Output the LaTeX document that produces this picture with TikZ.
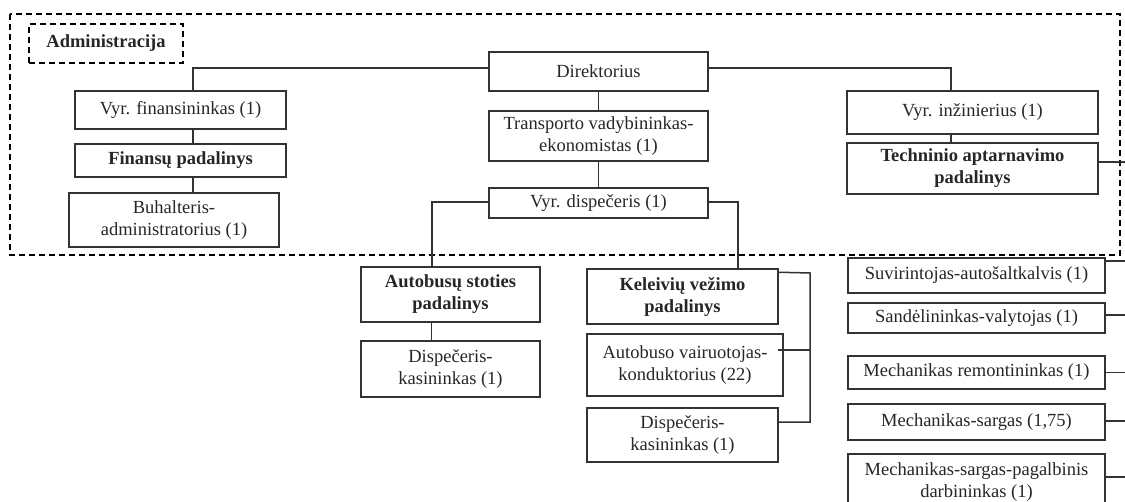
\documentclass[tikz,border=0pt]{standalone}
\usepackage{fontspec}
\setmainfont{Liberation Serif}
\begin{document}
\begin{tikzpicture}[x=1pt, y=-1pt, line width=1.5pt, draw=black!80,
  box/.style={draw=black!80, align=center, inner sep=0pt, text=black!85,
    font=\fontsize{18.5}{22}\selectfont},
  bbox/.style={box, font=\fontsize{18.5}{22}\selectfont\bfseries},
  grupe/.style={draw=black, dashed, dash pattern=on 6pt off 4pt, line width=1.4pt}]
  \useasboundingbox (0,0) rectangle (1125,502);
  % administracija
  \draw [grupe] (10,14) rectangle (1120,255);
  \node [bbox, grupe, minimum width=154pt, minimum height=39pt] (adm) at (106,43.5) {Administracija};
  % vadovybe
  \node [box, minimum width=219pt, minimum height=39pt] (dir) at (598.5,71.5) {Direktorius};
  \node [box, minimum width=219pt, minimum height=50pt] (trans) at (598.5,136) {Transporto vadybininkas-\\ekonomistas (1)};
  \node [box, minimum width=219pt, minimum height=30pt] (vdisp) at (598.5,203) {Vyr. dispečeris (1)};
  % finansai
  \node [box, minimum width=211pt, minimum height=38pt] (vfin) at (180.5,110) {Vyr. finansininkas (1)};
  \node [bbox, minimum width=211pt, minimum height=33pt] (finp) at (180.5,160.5) {Finansų padalinys};
  \node [box, minimum width=210pt, minimum height=54pt] (buh) at (174,220) {Buhalteris-\\administratorius (1)};
  % technika
  \node [box, minimum width=251pt, minimum height=43pt] (vinz) at (972.5,112.5) {Vyr. inžinierius (1)};
  \node [bbox, minimum width=251pt, minimum height=51pt] (tech) at (972.5,168.5) {Techninio aptarnavimo\\padalinys};
  % autobusu stotis
  \node [bbox, minimum width=179pt, minimum height=55pt] (aut) at (450.5,294.5) {Autobusų stoties\\padalinys};
  \node [box, minimum width=179pt, minimum height=56pt] (disp1) at (450.5,369) {Dispečeris-\\kasininkas (1)};
  % keleiviu vezimas
  \node [bbox, minimum width=191pt, minimum height=55pt] (kel) at (682.5,296.5) {Keleivių vežimo\\padalinys};
  \node [box, minimum width=196pt, minimum height=62pt] (vair) at (685,365) {Autobuso vairuotojas-\\konduktorius (22)};
  \node [box, minimum width=191pt, minimum height=54pt] (disp2) at (682.5,435) {Dispečeris-\\kasininkas (1)};
  % techninio padalinio darbuotojai
  \node [box, minimum width=257pt, minimum height=35pt] (suv) at (976.5,275.5) {Suvirintojas-autošaltkalvis (1)};
  \node [box, minimum width=257pt, minimum height=30pt] (sand) at (976.5,318) {Sandėlininkas-valytojas (1)};
  \node [box, minimum width=257pt, minimum height=33pt] (mrem) at (976.5,372.5) {Mechanikas remontininkas (1)};
  \node [box, minimum width=257pt, minimum height=36pt] (msarg) at (976.5,422) {Mechanikas-sargas (1,75)};
  \node [box, minimum width=257pt, minimum height=56pt] (mpag) at (976.5,482) {Mechanikas-sargas-pagalbinis\\darbininkas (1)};
  % linijos
  \coordinate (kbr) at (810,273);
  \coordinate (rtr) at (1128,162);
  \draw ([yshift=3.5pt]dir.west) -| ([xshift=12.5pt]vfin.north);
  \draw ([xshift=12.5pt]vfin.south) -- ([xshift=12.5pt]finp.north);
  \draw ([xshift=12.5pt]finp.south) -- ([xshift=19pt]buh.north);
  \draw ([yshift=3.5pt]dir.east) -| ([xshift=-21.5pt]vinz.north);
  \draw ([xshift=-21.5pt]vinz.south) -- ([xshift=-21.5pt]tech.north);
  \draw (dir.south) -- (trans.north);
  \draw (trans.south) -- (vdisp.north);
  \draw ([yshift=1pt]vdisp.west) -| ([xshift=-18.5pt]aut.north);
  \draw ([yshift=1pt]vdisp.east) -| ([xshift=55.5pt]kel.north);
  \draw ([xshift=-19pt]aut.south) -- ([xshift=-19pt]disp1.north);
  \draw ([yshift=-4pt]kel.north east) -- (kbr) |- ([yshift=-15pt]disp2.north east);
  \draw ([shift={(-6pt,15pt)}]vair.east) -- (kbr |- 0,350);
  \draw ([yshift=6.5pt]tech.east) -- (rtr);
  \draw ([yshift=14.5pt]suv.east) -- (rtr |- 0,261);
  \draw ([yshift=3pt]sand.east) -- (rtr |- 0,315);
  \draw (mrem.east) -- (rtr |- mrem.east);
  \draw ([yshift=1pt]msarg.east) -- (rtr |- 0,421);
  \draw ([yshift=5pt]mpag.east) -- (rtr |- 0,477);
  \draw (rtr) -- (rtr |- 0,502);
\end{tikzpicture}
\end{document}
